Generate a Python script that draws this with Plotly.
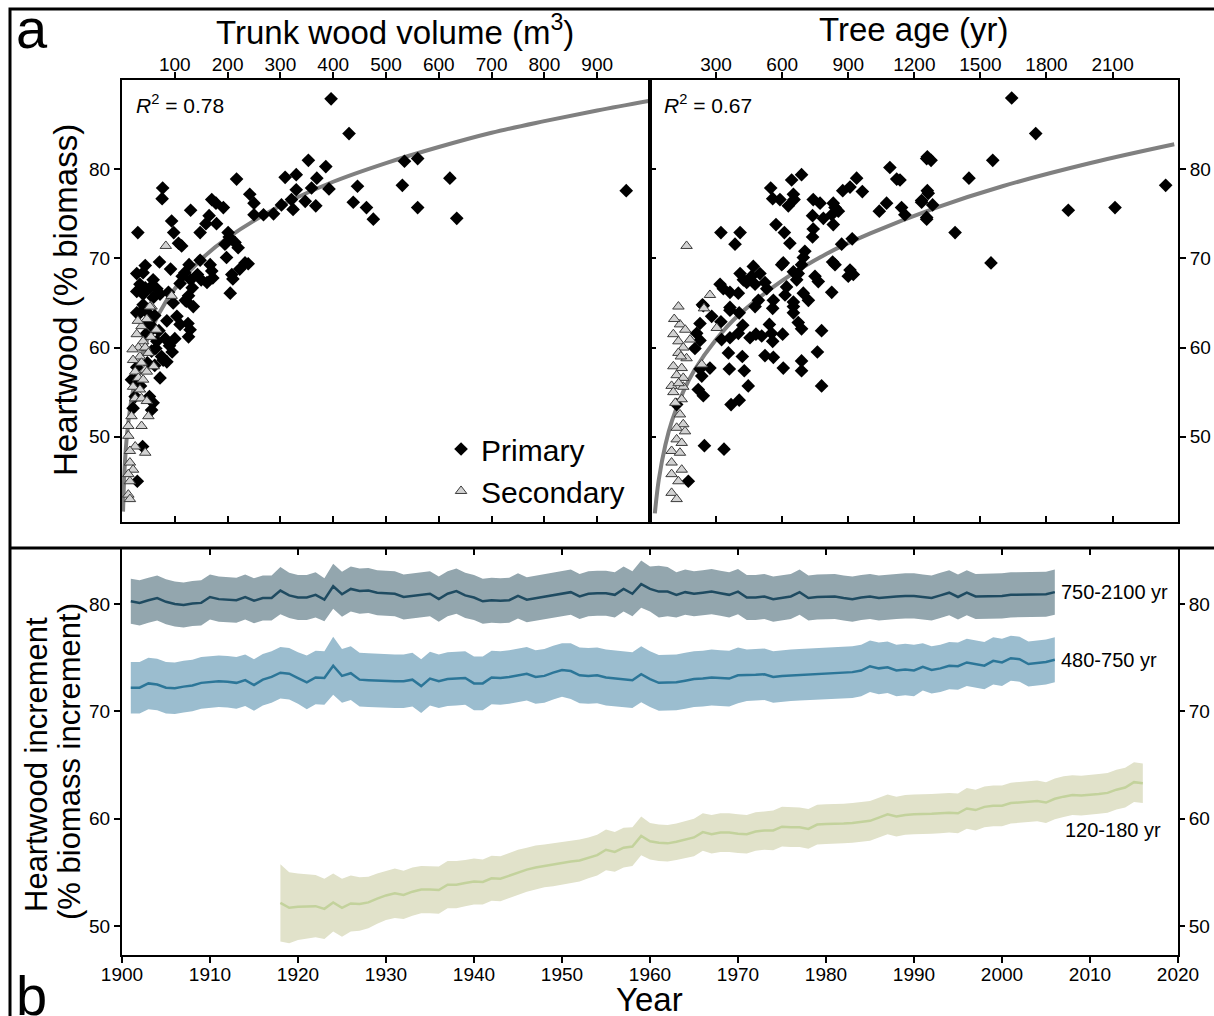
import plotly.graph_objects as go

# ---------------- Panel a: scatter data ----------------
# Trunk wood volume (m3) vs heartwood (% biomass)
vol_primary_x = [396, 430, 77, 76, 217, 353, 309, 330, 386, 369, 359, 392, 330, 321, 302, 324, 347, 367, 287, 268,
                 250, 250, 242, 446, 438, 463, 476, 170, 178, 192, 165, 179, 159, 148, 130, 94, 98, 30, 107, 113,
                 201, 203, 214, 195, 220, 198, 233, 239, 223, 208, 210, 205, 148, 127, 167, 170, 143, 150, 172, 161,
                 119, 114, 130, 110, 133, 126, 120, 71, 92, 44, 40, 59, 34, 44, 53, 66, 40, 72, 88, 59,
                 535, 560, 531, 621, 560, 634, 955,
                 40, 97, 122, 135, 104, 110, 125, 129, 126, 85, 66, 56, 75, 78, 72, 34, 59, 56, 18, 21, 39, 29,
                 47, 62, 50, 60, 45, 70, 82, 90, 64, 48, 28, 35, 52, 62, 85, 95, 100, 28, 28, 28, 25, 25]
vol_primary_y = [87.9, 84.0, 77.9, 76.7, 78.9, 81.0, 79.1, 79.4, 80.3, 79.0, 77.9, 77.8, 77.7, 76.6, 76.0, 75.5, 76.4, 75.9, 75.0, 74.9,
                 74.9, 76.2, 77.2, 78.1, 76.3, 75.7, 74.4, 76.6, 76.2, 75.7, 74.8, 73.9, 73.9, 72.9, 75.4, 74.2, 72.9, 72.9, 71.7, 71.4,
                 72.9, 72.4, 71.8, 71.6, 71.2, 70.1, 69.5, 69.4, 68.8, 68.2, 67.7, 66.1, 69.8, 69.3, 69.3, 68.6, 68.2, 67.6, 67.8, 67.3,
                 68.4, 68.0, 67.6, 67.2, 66.7, 65.8, 65.3, 69.6, 68.8, 69.2, 68.4, 67.6, 67.1, 66.7, 66.7, 66.6, 66.0, 66.0, 66.2, 65.6,
                 80.9, 81.2, 78.2, 79.0, 75.7, 74.5, 77.6,
                 64.8, 65.0, 65.2, 64.6, 63.5, 62.6, 62.7, 62.0, 61.2, 63.0, 60.7, 59.6, 59.0, 58.6, 56.6, 63.9, 53.8, 53.0, 56.4, 53.2, 48.9, 45.0,
                 64.0, 63.6, 62.8, 62.2, 61.5, 61.9, 61.0, 60.2, 59.9, 58.3, 57.8, 55.7, 54.5, 58.0, 58.4, 59.5, 61.0, 68.3, 66.3, 63.9, 56.4, 54.5]

vol_secondary_x = [83, 94, 56, 53, 37, 28, 40, 31, 44, 34, 21, 50, 37, 44, 25, 31, 40, 47, 21, 34,
                   25, 37, 47, 50, 18, 12, 37, 12, 25, 15, 44, 15, 21, 12, 15, 12, 15, 65, 47, 30, 20, 55, 60]
vol_secondary_y = [71.4, 65.8, 64.6, 64.6, 62.4, 61.5, 60.7, 60.0, 60.0, 59.0, 58.6, 59.4, 58.3, 57.5, 57.3, 56.6, 56.4, 57.3, 55.6, 55.3,
                   54.3, 54.3, 54.0, 52.3, 52.3, 51.2, 51.2, 50.1, 48.9, 48.4, 48.2, 47.1, 46.3, 45.8, 45.0, 43.5, 43.0, 62.0, 63.2, 63.0, 59.8, 61.2, 57.9]

# Tree age (yr) vs heartwood (% biomass)
age_primary_x = [322, 409, 386, 548, 643, 688, 557, 590, 651, 654, 628, 741, 772, 832, 840, 855, 825, 787, 738, 572,
                 610, 635, 741, 738, 832, 875, 908, 938, 964, 870, 918, 1089, 1120, 1135, 1041, 1074, 1142, 1157, 1256, 1263,
                 1233, 1256, 605, 598, 703, 696, 688, 651, 673, 666, 749, 764, 696, 719, 825, 829, 840, 908, 900, 923,
                 469, 499, 461, 439, 477, 409, 424, 522, 530, 401, 363, 318, 333, 492, 560, 620, 613, 651, 242, 363,
                 238, 363, 405, 477, 557, 651, 651, 280, 227, 212, 322, 325, 363, 401, 421, 454, 481, 507, 542, 552,
                 557, 602, 673, 688, 779, 204, 227, 356, 419, 522, 560, 688, 760, 272, 227, 235, 360, 428, 605, 688,
                 446, 779, 219, 242, 368, 405, 247, 336, 174, 121,
                 1642, 1751, 1259, 1276, 1556, 1448, 1259, 1233, 1283, 1256, 1385, 1548, 1899, 2111, 2341]
age_primary_y = [72.9, 72.9, 71.6, 77.9, 78.8, 79.4, 76.7, 76.6, 77.2, 76.6, 75.9, 76.6, 76.2, 76.2, 75.7, 75.3, 74.9, 74.5, 74.8, 73.8,
                 72.9, 71.7, 73.3, 72.4, 73.8, 77.6, 78.0, 79.0, 77.5, 71.6, 72.2, 80.2, 78.9, 78.8, 75.3, 76.2, 75.7, 74.9, 81.2, 77.3,
                 76.3, 74.4, 69.5, 69.3, 70.8, 70.1, 69.3, 68.5, 68.3, 67.6, 68.0, 67.4, 66.1, 65.3, 66.2, 69.6, 69.3, 68.7, 68.0, 68.2,
                 69.1, 68.3, 68.0, 67.3, 67.1, 68.3, 67.6, 67.3, 66.6, 66.1, 66.2, 67.1, 66.6, 65.3, 65.3, 66.8, 65.9, 65.1, 64.7, 64.5,
                 64.8, 64.2, 63.9, 64.6, 64.4, 64.6, 63.9, 63.5, 62.7, 61.6, 62.9, 60.9, 61.1, 61.6, 62.5, 61.1, 61.5, 61.3, 62.6, 61.6,
                 60.7, 61.5, 62.8, 62.1, 61.9, 59.9, 60.8, 59.4, 59.0, 59.1, 58.9, 58.5, 59.5, 57.7, 57.6, 56.8, 57.6, 57.4, 57.7, 57.4,
                 55.7, 55.7, 55.3, 54.6, 53.6, 54.1, 49.0, 48.6, 45.0, 53.6,
                 88.0, 84.0, 81.4, 81.0, 81.0, 79.0, 77.6, 76.5, 76.0, 74.6, 72.9, 69.5, 75.4, 75.7, 78.2]

age_secondary_x = [166, 272, 129, 245, 303, 136, 106, 129, 182, 151, 129, 166, 106, 144, 235, 121, 151, 98, 151, 106,
                   144, 136, 151, 121, 159, 121, 144, 98, 136, 98, 144, 98, 129, 98, 121, 110, 160, 140, 115, 130]
age_secondary_y = [71.4, 65.9, 64.6, 64.4, 62.2, 62.6, 61.5, 60.7, 60.9, 60.0, 59.4, 58.8, 57.9, 57.7, 58.1, 56.9, 56.6, 55.7, 55.6, 55.0,
                   54.2, 52.5, 51.4, 51.0, 50.6, 49.7, 49.3, 48.4, 48.2, 47.1, 46.3, 45.8, 45.0, 43.7, 43.0, 63.2, 62.0, 59.0, 53.8, 56.0]

# Fitted curves
vol_fit_x = [2, 5, 10, 20, 40, 70, 100, 150, 200, 300, 400, 500, 600, 700, 800, 900, 1000]
vol_fit_y = [41.6, 46.5, 50.5, 54.9, 59.6, 63.8, 66.6, 69.9, 72.3, 75.9, 78.6, 80.7, 82.5, 84.1, 85.4, 86.6, 87.7]
age_fit_x = [22, 40, 70, 100, 150, 200, 300, 400, 600, 800, 1000, 1300, 1600, 2000, 2380]
age_fit_y = [41.4, 45.2, 49.1, 51.8, 55.0, 57.4, 60.9, 63.6, 67.5, 70.5, 72.8, 75.7, 78.1, 80.7, 82.8]

vol_ticks = [100, 200, 300, 400, 500, 600, 700, 800, 900]
age_ticks = [300, 600, 900, 1200, 1500, 1800, 2100]
heart_ticks = [50, 60, 70, 80]

# ---------------- Panel b: heartwood increment time series ----------------
years_old = list(range(1901, 2007))
old_mean = [80.25, 80.1, 80.35, 80.55, 80.2, 80.0, 79.9, 80.05, 80.1, 80.65,
            80.45, 80.4, 80.35, 80.65, 80.3, 80.55, 80.55, 81.25, 80.8, 80.6,
            80.6, 80.85, 80.4, 81.65, 80.9, 81.4, 81.2, 81.25, 81.05, 81.0,
            80.95, 80.65, 80.75, 80.8, 80.95, 80.45, 80.95, 81.2, 80.8, 80.6,
            80.25, 80.35, 80.3, 80.35, 80.75, 80.4, 80.55, 80.65, 80.8, 80.95,
            81.1, 80.7, 80.95, 81.0, 81.0, 80.85, 81.4, 80.95, 81.85, 81.4,
            81.15, 81.15, 80.85, 81.1, 80.95, 81.05, 81.15, 81.0, 80.85, 81.15,
            80.6, 80.6, 80.7, 80.45, 80.6, 80.7, 81.1, 80.55, 80.65, 80.7,
            80.7, 80.55, 80.45, 80.6, 80.7, 80.55, 80.65, 80.7, 80.75, 80.75,
            80.65, 80.55, 80.8, 81.05, 80.65, 81.05, 80.7, 80.7, 80.7, 80.75,
            80.85, 80.85, 80.85, 80.9, 80.9, 81.1]
old_err = [2.1] * 17 + [2.2, 2.1, 2.1, 2.1, 2.1, 2.0, 2.1, 2.1, 2.1] + [2.1] * 32 + [2.2, 2.1, 2.4, 2.3] + [2.1] * 47

years_mid = list(range(1901, 2007))
mid_mean = [72.2, 72.2, 72.6, 72.5, 72.2, 72.15, 72.3, 72.4, 72.65, 72.7,
            72.8, 72.75, 72.65, 72.9, 72.45, 72.95, 73.2, 73.6, 73.5, 73.1,
            72.7, 73.15, 73.1, 74.25, 73.3, 73.55, 72.95, 72.9, 72.85, 72.8,
            72.8, 72.8, 72.95, 72.35, 73.05, 72.8, 73.0, 73.05, 73.1, 72.6,
            72.6, 73.15, 73.1, 73.2, 73.35, 73.5, 73.2, 73.3, 73.6, 73.85,
            73.75, 73.35, 73.3, 73.35, 73.15, 73.05, 72.95, 72.9, 73.45, 73.0,
            72.65, 72.7, 72.7, 72.85, 73.0, 73.05, 73.15, 73.1, 73.05, 73.35,
            73.35, 73.4, 73.45, 73.2, 73.3, 73.35, 73.4, 73.45, 73.5, 73.55,
            73.55, 73.65, 73.65, 73.8, 74.2, 74.0, 74.1, 73.8, 73.9, 73.8,
            74.15, 73.85, 74.0, 74.25, 74.2, 74.55, 74.4, 74.25, 74.7, 74.55,
            74.95, 74.85, 74.4, 74.5, 74.6, 74.8]
mid_err = [2.4] * 20 + [2.5] * 3 + [2.7] + [2.5] * 26 + [2.6] * 20 + [2.4] * 20 + [2.2] * 10 + [2.1] * 6

years_young = list(range(1918, 2017))
young_mean = [52.15, 51.7, 51.8, 51.85, 51.85, 51.6, 52.2, 51.7, 52.1, 52.05,
              52.2, 52.55, 52.85, 53.05, 52.9, 53.2, 53.4, 53.4, 53.35, 53.85,
              53.85, 54.0, 54.15, 54.1, 54.45, 54.4, 54.7, 55.0, 55.25, 55.45,
              55.6, 55.7, 55.85, 56.0, 56.1, 56.35, 56.6, 57.1, 56.9, 57.3,
              57.4, 58.4, 57.9, 57.75, 57.7, 57.85, 58.05, 58.25, 58.75, 58.55,
              58.7, 58.7, 58.6, 58.55, 58.8, 58.9, 58.9, 59.25, 59.2, 59.2,
              59.05, 59.45, 59.5, 59.5, 59.55, 59.6, 59.7, 59.8, 60.1, 60.4,
              60.2, 60.35, 60.4, 60.4, 60.45, 60.5, 60.55, 60.5, 60.95, 60.8,
              61.1, 61.2, 61.2, 61.45, 61.5, 61.55, 61.65, 61.5, 61.85, 62.05,
              62.2, 62.15, 62.2, 62.3, 62.4, 62.7, 62.9, 63.4, 63.3]
young_err = [3.6, 3.3, 3.1, 3.0, 2.9, 2.8, 2.7, 2.7, 2.6, 2.5,
             2.4, 2.35, 2.3, 2.3, 2.25, 2.25, 2.2, 2.2, 2.2, 2.2,
             2.2, 2.15, 2.15, 2.1, 2.1, 2.1, 2.1, 2.1, 2.05, 2.05,
             2.0, 2.0, 2.0, 1.95, 1.95, 1.9, 1.9, 1.9, 1.85, 1.85,
             1.8, 1.8, 1.7, 1.7, 1.7, 1.7, 1.75, 1.75, 1.75, 1.8,
             1.8, 1.8, 1.8, 1.8, 1.8, 1.8, 1.85, 1.85, 1.85, 1.85,
             1.85, 1.85, 1.85, 1.85, 1.85, 1.85, 1.85, 1.85, 1.85, 1.85,
             1.85, 1.85, 1.85, 1.85, 1.85, 1.85, 1.85, 1.85, 1.9, 1.9,
             1.9, 1.9, 1.9, 1.9, 1.9, 1.9, 1.9, 1.9, 1.9, 1.9,
             1.85, 1.85, 1.85, 1.85, 1.85, 1.85, 1.85, 1.85, 1.85]

year_ticks = list(range(1900, 2030, 10))
incr_ticks = [50, 60, 70, 80]

groups = [
    ("750-2100 yr", years_old, old_mean, old_err, "#1f4b61", "#93a6ae"),
    ("480-750 yr", years_mid, mid_mean, mid_err, "#2c7698", "#9bbdcf"),
    ("120-180 yr", years_young, young_mean, young_err, "#c3d29c", "#e1e2ca"),
]

FONT = "Liberation Sans, Arial, sans-serif"
NARROW = "Liberation Sans Narrow, Arial Narrow, Liberation Sans, sans-serif"

fig = go.Figure()

# ---- panel a, left (volume)
fig.add_trace(go.Scatter(x=vol_fit_x, y=vol_fit_y, mode="lines", line=dict(color="#808080", width=4, shape="spline"),
                         showlegend=False, hoverinfo="skip", xaxis="x", yaxis="y"))
fig.add_trace(go.Scatter(x=vol_primary_x, y=vol_primary_y, mode="markers", name="Primary",
                         marker=dict(symbol="diamond", size=10.5, color="black", line=dict(width=0)),
                         xaxis="x", yaxis="y"))
fig.add_trace(go.Scatter(x=vol_secondary_x, y=vol_secondary_y, mode="markers", name="Secondary",
                         marker=dict(symbol="triangle-up", size=10, color="#d2d2d2", line=dict(width=1, color="#3c3c3c")),
                         xaxis="x", yaxis="y"))
# ---- panel a, right (age)
fig.add_trace(go.Scatter(x=age_fit_x, y=age_fit_y, mode="lines", line=dict(color="#808080", width=4, shape="spline"),
                         showlegend=False, hoverinfo="skip", xaxis="x2", yaxis="y2"))
fig.add_trace(go.Scatter(x=age_primary_x, y=age_primary_y, mode="markers", showlegend=False,
                         marker=dict(symbol="diamond", size=10.5, color="black", line=dict(width=0)),
                         xaxis="x2", yaxis="y2"))
fig.add_trace(go.Scatter(x=age_secondary_x, y=age_secondary_y, mode="markers", showlegend=False,
                         marker=dict(symbol="triangle-up", size=10, color="#d2d2d2", line=dict(width=1, color="#3c3c3c")),
                         xaxis="x2", yaxis="y2"))

# ---- panel b bands + lines
for name, yrs, mean, err, lc, fc in groups:
    upper = [m + e for m, e in zip(mean, err)]
    lower = [m - e for m, e in zip(mean, err)]
    fig.add_trace(go.Scatter(x=yrs, y=upper, mode="lines", line=dict(width=0, color=fc), showlegend=False,
                             hoverinfo="skip", xaxis="x3", yaxis="y3"))
    fig.add_trace(go.Scatter(x=yrs, y=lower, mode="lines", line=dict(width=0, color=fc), fill="tonexty",
                             fillcolor=fc, showlegend=False, hoverinfo="skip", xaxis="x3", yaxis="y3"))
for name, yrs, mean, err, lc, fc in groups:
    fig.add_trace(go.Scatter(x=yrs, y=mean, mode="lines", line=dict(width=2.5, color=lc), name=name,
                             showlegend=False, xaxis="x3", yaxis="y3"))

# empty traces so that the mirrored (inside-tick) overlay axes get drawn
for xa, ya in [("x5", "y"), ("x6", "y2"), ("x2", "y5"), ("x7", "y3"), ("x3", "y4")]:
    fig.add_trace(go.Scatter(x=[], y=[], mode="markers", showlegend=False, hoverinfo="skip", xaxis=xa, yaxis=ya))

TOP_Y = [0.4862, 0.9213]
BOT_Y = [0.06004, 0.45965]
LEFT_X = [0.10049, 0.53542]
RIGHT_X = [0.53542, 0.97035]
FULL_X = [0.10049, 0.97035]
VOL_RANGE = [0, 1000]
AGE_RANGE = [0, 2397]
HW_RANGE = [40.43, 90.02]
YR_RANGE = [1900, 2020]
INC_RANGE = [47.3, 85.12]

base = dict(showgrid=False, zeroline=False, showline=True, linecolor="black", linewidth=2,
            ticks="outside", ticklen=6, tickwidth=1.5, tickcolor="black", automargin=False,
            tickfont=dict(family=FONT, size=19, color="black"))
inner = dict(showgrid=False, zeroline=False, showline=False, ticks="inside", ticklen=6, tickwidth=1.5,
             tickcolor="black", showticklabels=False, automargin=False)

fig.update_layout(
    width=1214, height=1016, margin=dict(l=0, r=0, t=0, b=0, pad=0, autoexpand=False),
    paper_bgcolor="white", plot_bgcolor="white",
    font=dict(family=FONT, color="black"),
    xaxis=dict(base, domain=LEFT_X, anchor="y", side="top", range=VOL_RANGE, tickvals=vol_ticks, mirror=True,
               ticklabelstandoff=-7),
    yaxis=dict(base, domain=TOP_Y, anchor="x", range=HW_RANGE, tickvals=heart_ticks, mirror=True),
    xaxis2=dict(base, domain=RIGHT_X, anchor="y2", side="top", range=AGE_RANGE, tickvals=age_ticks, mirror=True,
                ticklabelstandoff=-7),
    yaxis2=dict(base, domain=TOP_Y, anchor="x2", side="right", range=HW_RANGE, tickvals=heart_ticks, mirror=True),
    xaxis3=dict(base, domain=FULL_X, anchor="y3", range=YR_RANGE, tickvals=year_ticks, mirror=True,
                ticklabelstandoff=-5),
    yaxis3=dict(base, domain=BOT_Y, anchor="x3", range=INC_RANGE, tickvals=incr_ticks, mirror=True),
    yaxis4=dict(base, overlaying="y3", anchor="x3", side="right", range=INC_RANGE, tickvals=incr_ticks, showline=False),
    xaxis5=dict(inner, overlaying="x", anchor="y", side="bottom", range=VOL_RANGE, tickvals=vol_ticks),
    xaxis6=dict(inner, overlaying="x2", anchor="y2", side="bottom", range=AGE_RANGE, tickvals=age_ticks),
    yaxis5=dict(inner, overlaying="y2", anchor="x2", side="left", range=HW_RANGE, tickvals=heart_ticks),
    xaxis7=dict(inner, overlaying="x3", anchor="y3", side="top", range=YR_RANGE, tickvals=year_ticks),
    legend=dict(x=0.3633, y=0.5837, xanchor="left", yanchor="top", bgcolor="rgba(0,0,0,0)",
                traceorder="normal", font=dict(family=FONT, size=30, color="black"), tracegroupgap=0,
                itemsizing="trace"),
)

ann = [
    dict(text="a", x=14 / 1214, y=1 - 29 / 1016, xanchor="left", yanchor="middle", font=dict(size=56)),
    dict(text="b", x=14 / 1214, y=1 - 995 / 1016, xanchor="left", yanchor="middle", font=dict(size=56)),
    dict(text="Trunk wood volume (m<sup>3</sup>)", x=395 / 1214, y=1 - 30 / 1016, xanchor="center", yanchor="middle",
         font=dict(size=33)),
    dict(text="Tree age (yr)", x=914 / 1214, y=1 - 30 / 1016, xanchor="center", yanchor="middle", font=dict(size=33)),
    dict(text="Heartwood (% biomass)", x=66 / 1214, y=1 - 300 / 1016, textangle=-90, xanchor="center",
         yanchor="middle", font=dict(size=33)),
    dict(text="Heartwood increment", x=36 / 1214, y=1 - 765 / 1016, textangle=-90,
         xanchor="center", yanchor="middle", font=dict(size=31)),
    dict(text="(% biomass increment)", x=69 / 1214, y=1 - 762 / 1016, textangle=-90,
         xanchor="center", yanchor="middle", font=dict(size=31)),
    dict(text="Year", x=650 / 1214, y=1 - 999 / 1016, xanchor="center", yanchor="middle", font=dict(size=33)),
    dict(text="<i>R</i><sup>2</sup> = 0.78", x=134 / 1214, y=1 - 104 / 1016, xanchor="left", yanchor="middle",
         font=dict(size=21)),
    dict(text="<i>R</i><sup>2</sup> = 0.67", x=662 / 1214, y=1 - 104 / 1016, xanchor="left", yanchor="middle",
         font=dict(size=21)),
]
for a in ann:
    a.update(xref="paper", yref="paper", showarrow=False)
    a["font"] = dict(family=FONT, color="black", **a["font"])
    fig.add_annotation(**a)

# series labels in data coordinates
label_pos = [("750-2100 yr", 2006.5, 81.1, "left"), ("480-750 yr", 2006.5, 74.8, "left"),
             ("120-180 yr", 2018.3, 58.9, "right")]
for txt, lx, ly, anc in label_pos:
    fig.add_annotation(text=txt, x=lx, y=ly, xref="x3", yref="y3", xanchor=anc, yanchor="middle", showarrow=False,
                       font=dict(family=NARROW, size=20, color="black"))

# outer frame and divider
fig.add_shape(type="rect", xref="paper", yref="paper", x0=10 / 1214, x1=1.05, y0=-0.05, y1=1 - 9 / 1016,
              line=dict(color="black", width=3))
fig.add_shape(type="line", xref="paper", yref="paper", x0=10 / 1214, x1=1.05, y0=1 - 548 / 1016, y1=1 - 548 / 1016,
              line=dict(color="black", width=3))

fig.write_html("out.html")
